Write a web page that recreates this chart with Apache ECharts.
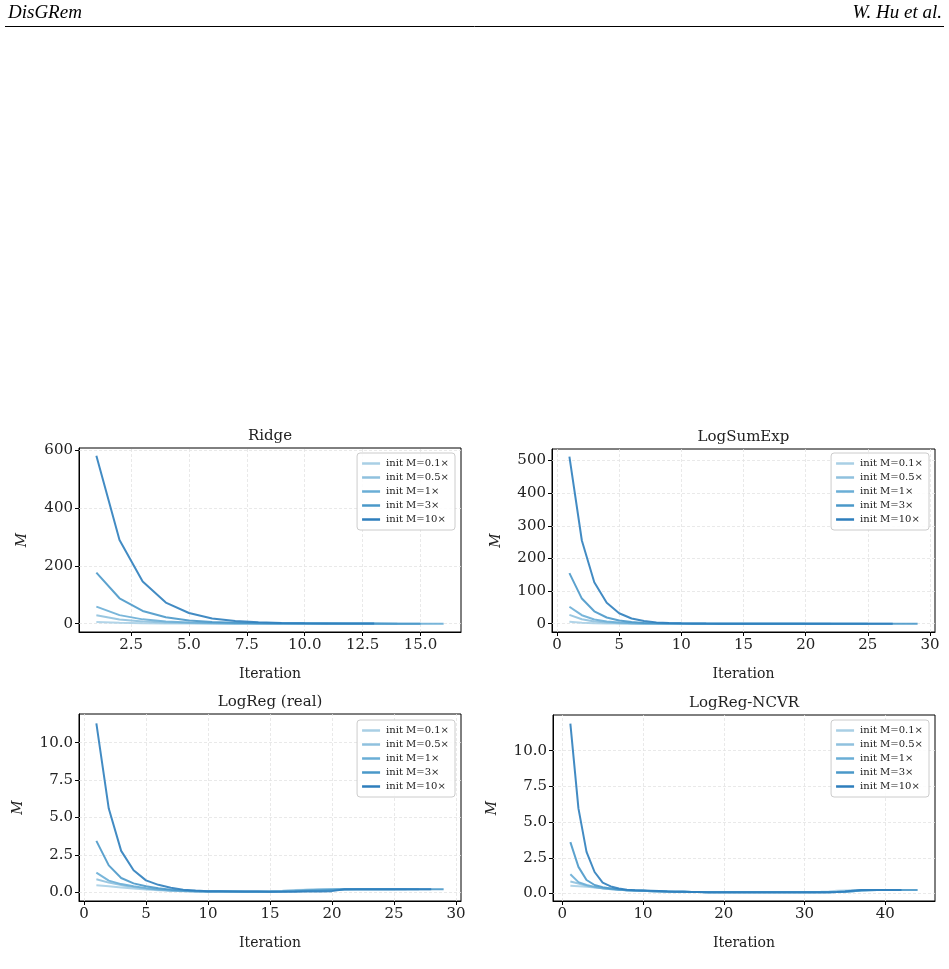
<!DOCTYPE html>
<html>
<head>
<meta charset="utf-8">
<script src="https://cdn.jsdelivr.net/npm/echarts@6/dist/echarts.min.js"></script>
<style>
  html, body { margin: 0; padding: 0; background: #fff; }
  #chart { width: 949px; height: 969px; }
</style>
</head>
<body>
<div id="chart"></div>
<script>
// series names and colours (light -> dark)
var names = ['init M=0.1×', 'init M=0.5×', 'init M=1×', 'init M=3×', 'init M=10×'];
var colors = ['#a9cfe5', '#8fc1de', '#6aaed6', '#4a98c9', '#2e7ebc'];

// Ridge
var ridge01 = [5.8, 2.9, 1.5, 0.7, 0.4, 0.2, 0.1, 0.05, 0.03, 0.01, 0.01];
var ridge05 = [29, 14.5, 7.3, 3.6, 1.8, 0.9, 0.45, 0.23, 0.12, 0.06, 0.03, 0.02, 0.01, 0.01];
var ridge1 = [59, 29.5, 14.8, 7.4, 3.7, 1.8, 0.9, 0.46, 0.23, 0.12, 0.06, 0.03, 0.02, 0.01, 0.01, 0.01];
var ridge3 = [177, 88, 44, 22, 11, 5.5, 2.8, 1.4, 0.7, 0.35, 0.17, 0.09, 0.05, 0.03, 0.02];
var ridge10 = [582, 290, 146, 73, 37, 18, 9.1, 4.6, 2.3, 1.1, 0.6, 0.3, 0.15];

// LogSumExp
var lse01 = [6, 3, 1.5, 0.75, 0.4, 0.2, 0.1, 0.05, 0.03, 0.02, 0.01, 0.01, 0.01, 0.01, 0.01, 0.01, 0.01, 0.01, 0.01, 0.01];
var lse05 = [27, 13.5, 6.8, 3.4, 1.7, 0.85, 0.43, 0.22, 0.11, 0.06, 0.03, 0.02, 0.01, 0.01, 0.01, 0.01, 0.01, 0.01, 0.01, 0.01, 0.01, 0.01];
var lse1 = [52, 26, 13, 6.5, 3.3, 1.6, 0.8, 0.4, 0.2, 0.1, 0.05, 0.03, 0.02, 0.01, 0.01, 0.01, 0.01, 0.01, 0.01, 0.01, 0.01, 0.01, 0.01, 0.01, 0.01];
var lse3 = [155, 77, 38, 19, 9.7, 4.8, 2.4, 1.2, 0.6, 0.3, 0.15, 0.08, 0.04, 0.02, 0.01, 0.01, 0.01, 0.01, 0.01, 0.01, 0.01, 0.01, 0.01, 0.01, 0.01, 0.01, 0.01, 0.01, 0.01];
var lse10 = [512, 255, 127, 64, 32, 16, 8, 4, 2, 1, 0.5, 0.25, 0.12, 0.06, 0.03, 0.02, 0.01, 0.01, 0.01, 0.01, 0.01, 0.01, 0.01, 0.01, 0.01, 0.01, 0.01];

// LogReg (real)
var lr01 = [0.47, 0.4, 0.32, 0.25, 0.19, 0.14, 0.1, 0.08, 0.06, 0.05, 0.05, 0.05, 0.05, 0.06, 0.08, 0.11, 0.15, 0.18, 0.19, 0.2, 0.2, 0.2, 0.2, 0.2, 0.2];
var lr05 = [0.87, 0.65, 0.48, 0.35, 0.25, 0.18, 0.12, 0.09, 0.07, 0.06, 0.05, 0.05, 0.05, 0.05, 0.06, 0.09, 0.13, 0.17, 0.19, 0.2, 0.2, 0.2, 0.2, 0.2, 0.2, 0.2];
var lr1 = [1.32, 0.78, 0.55, 0.4, 0.28, 0.19, 0.13, 0.09, 0.07, 0.06, 0.05, 0.05, 0.04, 0.04, 0.05, 0.07, 0.1, 0.14, 0.17, 0.19, 0.2, 0.2, 0.2, 0.2, 0.2, 0.2, 0.2];
var lr3 = [3.44, 1.8, 0.96, 0.6, 0.4, 0.27, 0.18, 0.12, 0.08, 0.06, 0.05, 0.05, 0.04, 0.04, 0.04, 0.05, 0.07, 0.1, 0.13, 0.16, 0.19, 0.2, 0.2, 0.2, 0.2, 0.2, 0.2, 0.2, 0.2];
var lr10 = [11.3, 5.6, 2.77, 1.47, 0.8, 0.5, 0.3, 0.18, 0.12, 0.08, 0.07, 0.06, 0.05, 0.05, 0.04, 0.04, 0.04, 0.05, 0.06, 0.08, 0.2, 0.2, 0.2, 0.2, 0.2, 0.2, 0.2, 0.2];

// LogReg-NCVR
var nc01 = [0.55, 0.52, 0.48, 0.43, 0.38, 0.33, 0.28, 0.24, 0.21, 0.19, 0.17, 0.15, 0.14, 0.13, 0.12, 0.11, 0.11,
  0.1, 0.1, 0.1, 0.1, 0.1, 0.1, 0.1, 0.1, 0.1, 0.1, 0.1, 0.1, 0.1, 0.1,
  0.12, 0.15, 0.19, 0.22, 0.24, 0.25, 0.25, 0.25];
var nc05 = [0.85, 0.7, 0.55, 0.45, 0.37, 0.31, 0.27, 0.24, 0.21, 0.19, 0.17, 0.15, 0.14, 0.13, 0.12, 0.11, 0.11,
  0.1, 0.1, 0.1, 0.1, 0.1, 0.1, 0.1, 0.1, 0.1, 0.1, 0.1, 0.1, 0.1, 0.1, 0.1,
  0.11, 0.13, 0.17, 0.21, 0.24, 0.25, 0.25, 0.25];
var nc1 = [1.35, 0.8, 0.6, 0.47, 0.38, 0.32, 0.27, 0.24, 0.21, 0.19, 0.17, 0.15, 0.14, 0.13, 0.12, 0.11, 0.11,
  0.1, 0.1, 0.1, 0.1, 0.1, 0.1, 0.1, 0.1, 0.1, 0.1, 0.1, 0.1, 0.1, 0.1, 0.1, 0.1,
  0.11, 0.13, 0.17, 0.21, 0.24, 0.25, 0.25, 0.25];
var nc3 = [3.6, 1.87, 0.95, 0.6, 0.45, 0.35, 0.28, 0.24, 0.22, 0.2, 0.18, 0.16, 0.14, 0.13, 0.12, 0.11, 0.11,
  0.1, 0.1, 0.1, 0.1, 0.1, 0.1, 0.1, 0.1, 0.1, 0.1, 0.1, 0.1, 0.1, 0.1, 0.1, 0.1,
  0.11, 0.13, 0.17, 0.21, 0.24, 0.25, 0.25, 0.25, 0.25, 0.25, 0.25];
var nc10 = [11.9, 5.96, 2.92, 1.51, 0.77, 0.5, 0.35, 0.27, 0.24, 0.22, 0.2, 0.18, 0.15, 0.13, 0.12, 0.11, 0.11,
  0.1, 0.1, 0.1, 0.1, 0.1, 0.1, 0.1, 0.1, 0.1, 0.1, 0.1, 0.1, 0.1, 0.1, 0.1, 0.1,
  0.11, 0.15, 0.2, 0.25, 0.25, 0.25, 0.25, 0.25, 0.25];

// tick values
var ridgeXTicks = [2.5, 5, 7.5, 10, 12.5, 15];
var ridgeYTicks = [0, 200, 400, 600];
var lseXTicks = [0, 5, 10, 15, 20, 25, 30];
var lseYTicks = [0, 100, 200, 300, 400, 500];
var lrXTicks = [0, 5, 10, 15, 20, 25, 30];
var lrYTicks = [0, 2.5, 5, 7.5, 10];
var ncXTicks = [0, 10, 20, 30, 40];
var ncYTicks = [0, 2.5, 5, 7.5, 10];

var FONT = '"DejaVu Serif", serif';
var TXT = '#222';

var panels = [
  { title: 'Ridge', grid: { left: 79, top: 448, width: 382, height: 184 },
    xmin: 0.25, xmax: 16.75, xt: ridgeXTicks, xd: 1,
    ymin: -29, ymax: 609, yt: ridgeYTicks, yd: 0,
    data: [ridge01, ridge05, ridge1, ridge3, ridge10],
    legend: { right: 494, top: 453 }, mx: 22 },
  { title: 'LogSumExp', grid: { left: 552, top: 449, width: 383, height: 183 },
    xmin: -0.4, xmax: 30.4, xt: lseXTicks, xd: 0,
    ymin: -25.5, ymax: 535.5, yt: lseYTicks, yd: 0,
    data: [lse01, lse05, lse1, lse3, lse10],
    legend: { right: 20, top: 453 }, mx: 496 },
  { title: 'LogReg (real)', grid: { left: 79, top: 714, width: 382, height: 187 },
    xmin: -0.4, xmax: 30.4, xt: lrXTicks, xd: 0,
    ymin: -0.58, ymax: 11.92, yt: lrYTicks, yd: 1,
    data: [lr01, lr05, lr1, lr3, lr10],
    legend: { right: 494, top: 720 }, mx: 18 },
  { title: 'LogReg-NCVR', grid: { left: 553, top: 715, width: 382, height: 186 },
    xmin: -1.15, xmax: 46.15, xt: ncXTicks, xd: 0,
    ymin: -0.52, ymax: 12.5, yt: ncYTicks, yd: 1,
    data: [nc01, nc05, nc1, nc3, nc10],
    legend: { right: 20, top: 720 }, mx: 492 }
];

var grids = [], xAxes = [], yAxes = [], series = [], legends = [], graphics = [];

panels.forEach(function (p, i) {
  grids.push(Object.assign({ show: true, borderColor: '#000', borderWidth: 1, backgroundColor: '#fff' }, p.grid));

  var axisBase = function (min, max, ticks, dec, pos) {
    return {
      type: 'value', gridIndex: i, min: min, max: max, position: pos,
      splitLine: { show: false },
      axisLine: { show: true, onZero: false, lineStyle: { color: '#000', width: 1 } },
      axisTick: { show: true, customValues: ticks, length: 4, lineStyle: { color: '#000', width: 1 } },
      axisLabel: {
        customValues: ticks, margin: 6, fontFamily: FONT, fontSize: 15, color: TXT,
        formatter: function (v) { return Number(v).toFixed(dec); }
      }
    };
  };
  xAxes.push(axisBase(p.xmin, p.xmax, p.xt, p.xd, 'bottom'));
  yAxes.push(axisBase(p.ymin, p.ymax, p.yt, p.yd, 'left'));

  // dashed grid lines at the tick values
  var gl = [];
  p.xt.forEach(function (v) { gl.push({ xAxis: v }); });
  p.yt.forEach(function (v) { gl.push({ yAxis: v }); });
  series.push({
    type: 'line', xAxisIndex: i, yAxisIndex: i, data: [], silent: true,
    markLine: {
      z: 1, silent: true, symbol: ['none', 'none'], animation: false,
      label: { show: false },
      lineStyle: { color: '#e3e3e3', width: 0.8, type: [3, 2] },
      data: gl
    }
  });

  p.data.forEach(function (arr, k) {
    series.push({
      name: names[k], type: 'line', xAxisIndex: i, yAxisIndex: i,
      data: arr.map(function (v, j) { return [j + 1, v]; }),
      showSymbol: false, symbol: 'none', z: 2 + k,
      lineStyle: { width: 2, color: colors[k], opacity: 0.9 },
      itemStyle: { color: colors[k] }
    });
  });

  legends.push({
    orient: 'vertical', right: p.legend.right, top: p.legend.top,
    data: names, icon: 'rect', itemWidth: 18, itemHeight: 2.5, itemGap: 3,
    padding: [5, 6, 5, 5], backgroundColor: 'rgba(255,255,255,0.85)',
    borderColor: '#cccccc', borderWidth: 1, borderRadius: 3,
    selectedMode: false,
    textStyle: { fontFamily: FONT, fontSize: 10, lineHeight: 11, color: TXT, padding: [0, 0, 0, 1] }
  });

  var cx = p.grid.left + p.grid.width / 2;
  var cy = p.grid.top + p.grid.height / 2;
  graphics.push({ type: 'text', x: cx, y: p.grid.top - 12,
    style: { text: p.title, font: '15px ' + FONT, fill: TXT, align: 'center', verticalAlign: 'middle' } });
  graphics.push({ type: 'text', x: cx, y: p.grid.top + p.grid.height + 42,
    style: { text: 'Iteration', font: '14px ' + FONT, fill: TXT, align: 'center', verticalAlign: 'middle' } });
  graphics.push({ type: 'text', x: p.mx, y: cy, rotation: Math.PI / 2,
    style: { text: 'M', font: 'italic 14px ' + FONT, fill: TXT, align: 'center', verticalAlign: 'middle' } });
});

// page header
graphics.push({ type: 'text', x: 8, y: 13,
  style: { text: 'DisGRem', font: 'italic 19px "Liberation Serif", serif', fill: '#000', align: 'left', verticalAlign: 'middle' } });
graphics.push({ type: 'text', x: 942, y: 13,
  style: { text: 'W. Hu et al.', font: 'italic 19px "Liberation Serif", serif', fill: '#000', align: 'right', verticalAlign: 'middle' } });
graphics.push({ type: 'line', shape: { x1: 5, y1: 26.5, x2: 944, y2: 26.5 }, style: { stroke: '#000', lineWidth: 1 } });

var myChart = echarts.init(document.getElementById('chart'));
myChart.setOption({
  animation: false,
  backgroundColor: '#fff',
  grid: grids,
  xAxis: xAxes,
  yAxis: yAxes,
  legend: legends,
  series: series,
  graphic: graphics
});
</script>
</body>
</html>
